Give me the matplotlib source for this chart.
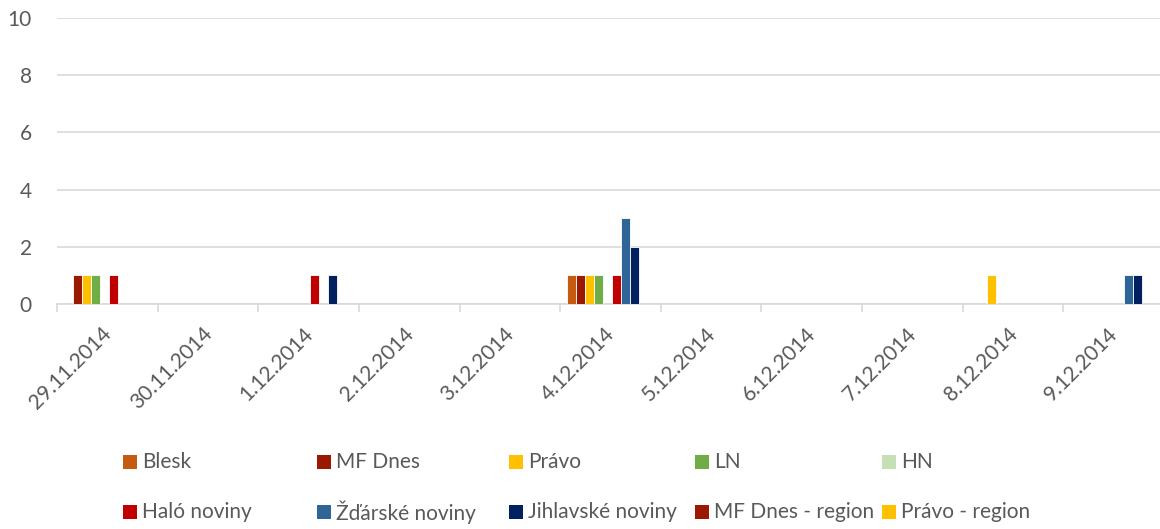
import matplotlib
matplotlib.use("Agg")
import matplotlib.pyplot as plt
import matplotlib.transforms as mtransforms
import numpy as np
from matplotlib.patches import Rectangle

plt.rcParams['font.family'] = ['Lato', 'DejaVu Sans']

dates = ["29.11.2014", "30.11.2014", "1.12.2014", "2.12.2014", "3.12.2014", "4.12.2014",
         "5.12.2014", "6.12.2014", "7.12.2014", "8.12.2014", "9.12.2014"]
names = ["Blesk", "MF Dnes", "Právo", "LN", "HN",
         "Haló noviny", "Žďárské noviny", "Jihlavské noviny", "MF Dnes - region", "Právo - region"]
colors = ["#C55A11", "#9A1900", "#FFC000", "#70AD47", "#C5E0B4",
          "#C00000", "#2E6496", "#002060", "#9A1900", "#FFC000"]

blesk      = [0, 0, 0, 0, 0, 1, 0, 0, 0, 0, 0]
mfdnes     = [1, 0, 0, 0, 0, 1, 0, 0, 0, 0, 0]
pravo      = [1, 0, 0, 0, 0, 1, 0, 0, 0, 1, 0]
ln         = [1, 0, 0, 0, 0, 1, 0, 0, 0, 0, 0]
hn         = [0, 0, 0, 0, 0, 0, 0, 0, 0, 0, 0]
halo       = [1, 0, 1, 0, 0, 1, 0, 0, 0, 0, 0]
zdarske    = [0, 0, 0, 0, 0, 3, 0, 0, 0, 0, 1]
jihlavske  = [0, 0, 1, 0, 0, 2, 0, 0, 0, 0, 1]
mf_region  = [0, 0, 0, 0, 0, 0, 0, 0, 0, 0, 0]
pr_region  = [0, 0, 0, 0, 0, 0, 0, 0, 0, 0, 0]
series = [blesk, mfdnes, pravo, ln, hn, halo, zdarske, jihlavske, mf_region, pr_region]

txt = "#595959"
fs = 15
fig = plt.figure(figsize=(11.6, 5.29), dpi=100)
ax = fig.add_axes([57/1160, 1-304/529, 1107/1160, 286/529])

x = np.arange(len(dates))
w = 0.09
for i, (vals, c) in enumerate(zip(series, colors)):
    ax.bar(x - 0.45 + w*(i+0.5) + 0.015, vals, width=w, color=c, edgecolor="white", linewidth=0.6, zorder=3)

ax.set_xlim(-0.5, len(dates)-0.5)
ax.set_ylim(0, 10)
ax.set_yticks(range(0, 11, 2))
ax.grid(axis='y', color="#D9D9D9", linewidth=1.2, zorder=0)
for s in ["top", "right", "left"]:
    ax.spines[s].set_visible(False)
ax.spines["bottom"].set_color("#D9D9D9")
ax.spines["bottom"].set_linewidth(1.2)
ax.tick_params(axis='y', length=0, labelsize=fs, labelcolor=txt, pad=18)
ax.set_xticks(np.arange(-0.5, len(dates)+0.5, 1), minor=False)
ax.set_xticklabels([])
ax.tick_params(axis='x', which='major', length=6, color="#D9D9D9", width=1.2)
ax.set_xticks(x, minor=True)
ax.set_xticklabels(dates, minor=True, rotation=45, ha='right', va='top',
                   rotation_mode='anchor', fontsize=fs, color=txt)
ax.tick_params(axis='x', which='minor', length=0, pad=14)
shift = mtransforms.ScaledTranslation(-6/100, 0, fig.dpi_scale_trans)
for lab in ax.get_xticklabels(minor=True):
    lab.set_transform(lab.get_transform() + shift)

# legend, two rows of five
col_x = [123, 317, 509, 695, 882]
row_y = [462, 512]
for i, (n, c) in enumerate(zip(names, colors)):
    cx = col_x[i % 5]
    cy = row_y[i // 5]
    fig.patches.append(Rectangle((cx/1160, 1-(cy+7)/529), 14/1160, 14/529,
                                 transform=fig.transFigure, facecolor=c, edgecolor='none'))
    fig.text((cx+19)/1160, 1-cy/529, n, fontsize=fs, color=txt, va='center', ha='left')

fig.savefig("out.png", dpi=100)
